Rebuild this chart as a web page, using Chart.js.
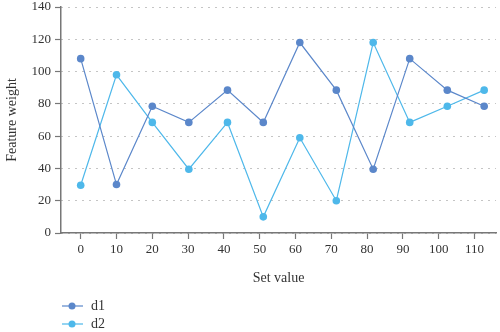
<!DOCTYPE html>
<html>
<head>
<meta charset="utf-8">
<script src="https://cdn.jsdelivr.net/npm/chart.js@4"></script>
<style>
  html, body { margin: 0; padding: 0; background: #fff; }
  #wrap { width: 500px; height: 332px; }
</style>
</head>
<body>
<div id="wrap"><canvas id="chart" width="500" height="332"></canvas></div>
<script>
// Values
const setValues = [0, 10, 20, 30.2, 41, 51, 61.2, 71.4, 81.7, 91.9, 102.4, 112.7];
const xTicks = [0, 10, 20, 30, 40, 50, 60, 70, 80, 90, 100, 110];
const yTicks = [0, 20, 40, 60, 80, 100, 120, 140];
const d1 = [108, 30, 78.5, 68.5, 88.5, 68.5, 118, 88.5, 39.5, 108, 88.5, 78.5];
const d2 = [29.6, 98, 68.5, 39.5, 68.5, 10, 59, 20, 118, 68.5, 78.5, 88.5];

const seriesNames = ['d1', 'd2'];
const seriesColors = ['#5b87ca', '#4eb8ea'];

const fontFamily = '"Liberation Serif", "DejaVu Serif", serif';

function toPoints(ys) {
    return ys.map((y, i) => ({ x: setValues[i], y: y }));
}

// Legend drawn below the axis title: short line with a dot, stacked vertically
const bottomLegend = {
    id: 'bottomLegend',
    afterDraw(chart) {
        const ctx = chart.ctx;
        ctx.save();
        chart.data.datasets.forEach((ds, i) => {
            const y = 306 + i * 18;
            ctx.strokeStyle = ds.borderColor;
            ctx.lineWidth = 1.2;
            ctx.beginPath();
            ctx.moveTo(62, y);
            ctx.lineTo(83, y);
            ctx.stroke();
            ctx.fillStyle = ds.pointBackgroundColor;
            ctx.beginPath();
            ctx.arc(72, y, 3.5, 0, Math.PI * 2);
            ctx.fill();
            ctx.fillStyle = '#333';
            ctx.font = '14px ' + fontFamily;
            ctx.textBaseline = 'middle';
            ctx.fillText(ds.label, 91, y);
        });
        ctx.restore();
    }
};

const ctx = document.getElementById('chart').getContext('2d');
const chart = new Chart(ctx, {
    type: 'line',
    data: {
        datasets: [d1, d2].map((vals, i) => ({
            label: seriesNames[i],
            data: toPoints(vals),
            borderColor: seriesColors[i],
            backgroundColor: seriesColors[i],
            pointBackgroundColor: seriesColors[i],
            pointBorderColor: seriesColors[i],
            pointRadius: 3.8,
            pointBorderWidth: 0,
            borderWidth: 1.2,
            tension: 0,
            fill: false
        }))
    },
    options: {
        responsive: false,
        animation: false,
        layout: { padding: { top: 7, right: 0, bottom: 43, left: 0 } },
        plugins: {
            legend: { display: false },
            tooltip: { enabled: false }
        },
        scales: {
            x: {
                type: 'linear',
                min: -5.5,
                max: 116,
                afterBuildTicks: (scale) => { scale.ticks = xTicks.map(v => ({ value: v })); },
                afterFit: (scale) => { scale.height = 56; scale.paddingRight = 0; },
                grid: {
                    display: true,
                    drawOnChartArea: false,
                    drawTicks: true,
                    tickLength: 6,
                    tickColor: '#777',
                    tickWidth: 1.2
                },
                border: { display: true, color: '#777', width: 1.5 },
                ticks: {
                    color: '#333',
                    padding: 3,
                    maxRotation: 0,
                    autoSkip: false,
                    font: { family: fontFamily, size: 13 }
                },
                title: {
                    display: true,
                    text: 'Set value',
                    color: '#333',
                    padding: { top: 0, bottom: 2 },
                    font: { family: fontFamily, size: 14 }
                }
            },
            y: {
                min: 0,
                max: 140,
                afterBuildTicks: (scale) => { scale.ticks = yTicks.map(v => ({ value: v })); },
                afterFit: (scale) => { scale.width = 61; scale.paddingTop = 0; scale.paddingBottom = 0; },
                grid: {
                    display: true,
                    drawOnChartArea: true,
                    drawTicks: true,
                    tickLength: 6,
                    color: '#8a8a8a',
                    lineWidth: 1,
                    tickColor: '#777',
                    tickWidth: 1.2,
                    tickBorderDash: []
                },
                border: { display: true, color: '#777', width: 1.5, dash: [1, 6] },
                ticks: {
                    color: '#333',
                    padding: 4,
                    font: { family: fontFamily, size: 13 }
                },
                title: {
                    display: true,
                    text: 'Feature weight',
                    color: '#333',
                    padding: { top: 4, bottom: 0 },
                    font: { family: fontFamily, size: 14 }
                }
            }
        }
    },
    plugins: [bottomLegend]
});
</script>
</body>
</html>
